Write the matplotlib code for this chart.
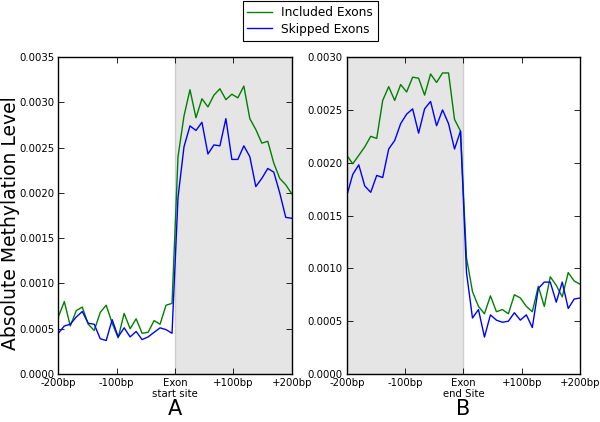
import numpy as np
import matplotlib
matplotlib.use("Agg")
import matplotlib.pyplot as plt
from matplotlib.ticker import FormatStrFormatter

# 40 bins spanning -200bp .. +200bp around the splice site
x = np.linspace(-200, 200, 40)

# Panel A: around exon start site
start_included = [0.00063, 0.00080, 0.00053, 0.00070, 0.00074, 0.00055, 0.00048, 0.00068, 0.00076, 0.00056,
                  0.00040, 0.00067, 0.00050, 0.00061, 0.00045, 0.00046, 0.00059, 0.00055, 0.00076, 0.00078,
                  0.00240, 0.00285, 0.00314, 0.00283, 0.00304, 0.00295, 0.00308, 0.00315, 0.00303, 0.00309,
                  0.00305, 0.00318, 0.00282, 0.00270, 0.00255, 0.00257, 0.00233, 0.00216, 0.00209, 0.00199]
start_skipped = [0.00045, 0.00053, 0.00055, 0.00063, 0.00069, 0.00056, 0.00055, 0.00039, 0.00037, 0.00060,
                 0.00041, 0.00051, 0.00041, 0.00047, 0.00038, 0.00041, 0.00046, 0.00051, 0.00049, 0.00045,
                 0.00195, 0.00251, 0.00274, 0.00269, 0.00278, 0.00243, 0.00253, 0.00252, 0.00282, 0.00237,
                 0.00237, 0.00252, 0.00240, 0.00207, 0.00216, 0.00227, 0.00223, 0.00200, 0.00173, 0.00172]

# Panel B: around exon end site
end_included = [0.00207, 0.00199, 0.00207, 0.00215, 0.00225, 0.00223, 0.00259, 0.00272, 0.00259, 0.00274,
                0.00267, 0.00281, 0.00280, 0.00264, 0.00284, 0.00276, 0.00285, 0.00285, 0.00241, 0.00230,
                0.00110, 0.00078, 0.00064, 0.00057, 0.00074, 0.00059, 0.00061, 0.00057, 0.00075, 0.00072,
                0.00064, 0.00059, 0.00083, 0.00064, 0.00092, 0.00084, 0.00073, 0.00096, 0.00088, 0.00085]
end_skipped = [0.00169, 0.00189, 0.00198, 0.00178, 0.00172, 0.00188, 0.00186, 0.00213, 0.00221, 0.00237,
               0.00246, 0.00251, 0.00228, 0.00251, 0.00258, 0.00235, 0.00250, 0.00237, 0.00213, 0.00230,
               0.00096, 0.00053, 0.00061, 0.00035, 0.00056, 0.00051, 0.00049, 0.00050, 0.00058, 0.00051,
               0.00056, 0.00044, 0.00081, 0.00087, 0.00087, 0.00068, 0.00087, 0.00062, 0.00071, 0.00072]

tick_pos = [-200, -100, 0, 100, 200]
labels_a = ['-200bp', '-100bp', 'Exon\nstart site', '+100bp', '+200bp']
labels_b = ['-200bp', '-100bp', 'Exon\nend Site', '+100bp', '+200bp']

green = (0, 0.5, 0)
blue = (0, 0, 1)

fig = plt.figure(figsize=(6, 4.22), dpi=100)
ax_a = fig.add_axes([0.0972, 0.1137, 0.389, 0.751])
ax_b = fig.add_axes([0.578, 0.1137, 0.389, 0.751])


def style_axis(ax, shade, ymax, xlabels, panel):
    ax.axvspan(shade[0], shade[1], facecolor='#e5e5e5', edgecolor='#cfcfcf', linewidth=1, zorder=0)
    ax.set_xlim(-200, 200)
    ax.set_ylim(0, ymax)
    ax.set_xticks(tick_pos)
    ax.set_xticklabels(xlabels, fontsize=7.3, linespacing=1.1)
    ax.set_yticks(np.arange(0, ymax + 1e-9, 0.0005))
    ax.yaxis.set_major_formatter(FormatStrFormatter('%.4f'))
    ax.tick_params(direction='in', top=True, right=True, length=4, width=0.6,
                   labelsize=7.3, pad=3)
    for s in ax.spines.values():
        s.set_linewidth(1.0)
    ax.set_xlabel(panel, fontsize=15, labelpad=0)


style_axis(ax_a, (0, 200), 0.0035, labels_a, 'A')
style_axis(ax_b, (-200, 0), 0.0030, labels_b, 'B')

l1, = ax_a.plot(x, start_included, color=green, lw=1.0, label='Included Exons')
l2, = ax_a.plot(x, start_skipped, color=blue, lw=1.0, label='Skipped Exons')
ax_b.plot(x, end_included, color=green, lw=1.0)
ax_b.plot(x, end_skipped, color=blue, lw=1.0)

fig.text(0.002, 0.472, 'Absolute Methylation Level', fontsize=13.5, rotation=90,
         ha='left', va='center')

leg = fig.legend(handles=[l1, l2], loc='upper center', bbox_to_anchor=(0.517, 1.0),
                 fontsize=8.7, fancybox=False, edgecolor='black', framealpha=1,
                 handlelength=2.0, borderpad=0.4, labelspacing=0.3, borderaxespad=0.1)
leg.get_frame().set_linewidth(0.8)

fig.savefig('out.png', dpi=100)
